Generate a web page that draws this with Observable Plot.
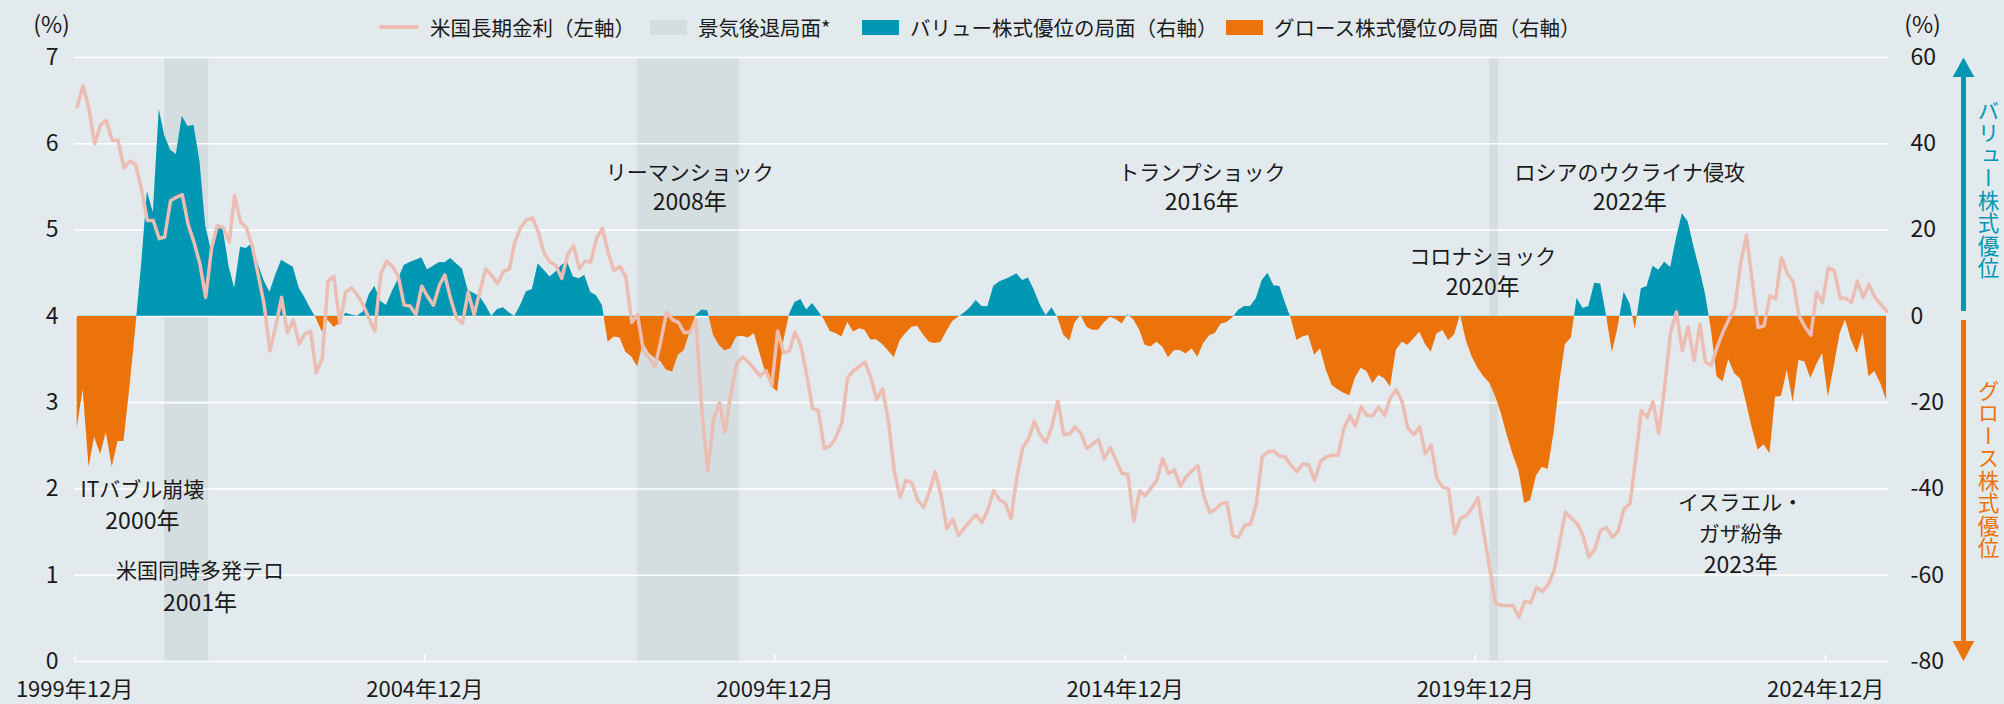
<!DOCTYPE html>
<html lang="ja">
<head>
<meta charset="utf-8">
<script src="https://cdn.jsdelivr.net/npm/d3@7"></script>
<script src="https://cdn.jsdelivr.net/npm/@observablehq/plot@0.6"></script>
<style>
  html, body { margin: 0; padding: 0; background: #e2eaed; }
  #wrap { position: relative; width: 2004px; height: 704px; overflow: hidden;
          font-family: "Noto Sans CJK JP", sans-serif; color: #1a1a1a; }
  #chart svg { display: block; }
  .leg { position: absolute; top: 11px; height: 32px; display: flex; align-items: center;
         gap: 11px; font-size: 20.5px; white-space: nowrap; }
  .sw-line { width: 40px; height: 4px; border-radius: 2px; background: #ecbdb3; }
  .sw-box { width: 37px; height: 15px; }
  .vlab { position: absolute; left: 1977px; writing-mode: vertical-rl; font-size: 21.5px;
          line-height: 22px; letter-spacing: 1px; white-space: nowrap; }
  #arrows { position: absolute; left: 0; top: 0; pointer-events: none; }
</style>
</head>
<body>
<div id="wrap">
  <div id="chart"></div>
  <div class="leg" style="left:379px"><span class="sw-line"></span><span>米国長期金利（左軸）</span></div>
  <div class="leg" style="left:650px"><span class="sw-box" style="background:#d4dde0"></span><span>景気後退局面*</span></div>
  <div class="leg" style="left:862px"><span class="sw-box" style="background:#0097b2"></span><span>バリュー株式優位の局面（右軸）</span></div>
  <div class="leg" style="left:1226px"><span class="sw-box" style="background:#ec720a"></span><span>グロース株式優位の局面（右軸）</span></div>
  <div class="vlab" style="top:100px;color:#0097b2">バリュー株式優位</div>
  <div class="vlab" style="top:380px;color:#ec720a">グロース株式優位</div>
  <svg id="arrows" width="2004" height="704">
    <rect x="1961" y="75" width="5" height="236" fill="#0097b2"></rect>
    <polygon points="1952.7,77 1963.5,57.5 1974.3,77" fill="#0097b2"></polygon>
    <rect x="1961" y="320" width="5" height="323" fill="#ec720a"></rect>
    <polygon points="1952.7,641 1974.3,641 1963.5,661" fill="#ec720a"></polygon>
  </svg>
</div>
<script>
// ---- Data (monthly, 1999年12月 … 2025年10月) ----
// 米国長期金利 (%, left axis)
const yieldValues = [
  6.43, 6.67, 6.40, 6.00, 6.22, 6.27, 6.04, 6.04, 5.72, 5.80, 5.76, 5.47, 5.11,
  5.11, 4.90, 4.92, 5.34, 5.38, 5.41, 5.07, 4.86, 4.61, 4.22, 4.79, 5.05,
  5.03, 4.86, 5.40, 5.09, 5.03, 4.81, 4.49, 4.15, 3.60, 3.88, 4.22, 3.81,
  3.96, 3.68, 3.79, 3.83, 3.35, 3.51, 4.41, 4.46, 3.92, 4.28, 4.33, 4.25,
  4.13, 3.97, 3.83, 4.49, 4.64, 4.58, 4.47, 4.13, 4.12, 4.02, 4.35, 4.23,
  4.13, 4.36, 4.48, 4.20, 3.98, 3.92, 4.28, 4.02, 4.30, 4.55, 4.47, 4.38,
  4.52, 4.55, 4.86, 5.03, 5.12, 5.14, 4.98, 4.73, 4.63, 4.59, 4.44, 4.71,
  4.82, 4.55, 4.64, 4.63, 4.90, 5.02, 4.74, 4.53, 4.58, 4.46, 3.93, 4.02,
  3.60, 3.52, 3.41, 3.72, 4.05, 3.96, 3.93, 3.81, 3.82, 3.96, 2.90, 2.21,
  2.81, 3.00, 2.66, 3.10, 3.45, 3.53, 3.47, 3.39, 3.31, 3.37, 3.20, 3.83,
  3.58, 3.60, 3.82, 3.66, 3.33, 2.93, 2.91, 2.47, 2.50, 2.60, 2.77, 3.29,
  3.37, 3.42, 3.47, 3.29, 3.04, 3.16, 2.80, 2.21, 1.90, 2.10, 2.07, 1.87,
  1.79, 1.97, 2.20, 1.93, 1.54, 1.65, 1.46, 1.55, 1.63, 1.70, 1.61, 1.76,
  1.98, 1.87, 1.84, 1.66, 2.13, 2.48, 2.58, 2.78, 2.62, 2.54, 2.73, 3.02,
  2.63, 2.64, 2.72, 2.64, 2.47, 2.52, 2.57, 2.35, 2.48, 2.33, 2.18, 2.17,
  1.63, 1.98, 1.92, 2.01, 2.10, 2.35, 2.18, 2.22, 2.03, 2.14, 2.21, 2.27,
  1.92, 1.73, 1.76, 1.83, 1.84, 1.46, 1.44, 1.58, 1.59, 1.83, 2.37, 2.43,
  2.44, 2.38, 2.37, 2.27, 2.20, 2.29, 2.28, 2.10, 2.32, 2.37, 2.39, 2.39,
  2.70, 2.85, 2.73, 2.95, 2.85, 2.85, 2.95, 2.85, 3.06, 3.15, 3.01, 2.70,
  2.63, 2.72, 2.41, 2.51, 2.12, 2.02, 2.00, 1.48, 1.66, 1.69, 1.78, 1.90,
  1.48, 1.07, 0.67, 0.65, 0.65, 0.65, 0.51, 0.70, 0.68, 0.86, 0.81, 0.89,
  1.05, 1.40, 1.73, 1.66, 1.60, 1.46, 1.21, 1.30, 1.52, 1.55, 1.44, 1.51,
  1.77, 1.83, 2.32, 2.91, 2.83, 3.01, 2.64, 3.19, 3.82, 4.05, 3.60, 3.88,
  3.49, 3.91, 3.47, 3.43, 3.64, 3.82, 3.96, 4.10, 4.61, 4.94, 4.40, 3.87,
  3.89, 4.24, 4.20, 4.68, 4.50, 4.40, 4.01, 3.88, 3.78, 4.28, 4.16, 4.56,
  4.53, 4.21, 4.21, 4.16, 4.41, 4.22, 4.37, 4.22, 4.14, 4.06
];
// バリュー − グロース (%, right axis): >0 バリュー優位, <0 グロース優位
const valueMinusGrowth = [
  -26, -17, -35, -28, -32, -27, -35, -29, -29, -16.5, -3, 12, 29,
  24, 48, 42, 38.5, 37.5, 46.4, 44, 44.3, 36, 21, 15, 20.7,
  20, 11.4, 6.5, 16, 15.7, 16.9, 12.3, 8.3, 5.6, 9.5, 13, 12.2,
  11.4, 6.5, 4.5, 1.8, -0.5, -3.6, -0.9, -2.5, -1.7, 0.7, 0.3, 0.1,
  1, 5, 7, 3.5, 2.5, 5.8, 8.5, 11.8, 12.5, 13, 13.6, 10.8,
  11.6, 12.5, 12.4, 13.4, 12.2, 11, 6, 5.3, 4.5, 2.5, 0, 1.6,
  2, 0.8, 0, 2.6, 5.7, 6.2, 12.2, 10.7, 9.1, 10.3, 11.8, 12.6,
  9.1, 8.7, 9.5, 5.6, 4.8, 2.5, -6, -4.8, -5, -8.3, -9.4, -11.7,
  -6.3, -8.6, -9.7, -10.5, -12.5, -12.9, -9, -7.9, -3.5, 0.2, 1.5, 1.3,
  -4.5, -6.8, -8, -7.5, -4.8, -4.6, -5, -4, -8.7, -13.3, -16.4, -17.5,
  -6, 0.5, 3.2, 3.9, 1.5, 3.0, 1.2, -0.8, -3.5, -4, -4.8, -1.4,
  -3.6, -2.9, -3.2, -5.5, -5.4, -6.5, -8, -9.6, -5.6, -4, -2.5, -2.3,
  -4.4, -6, -6.3, -6, -3.5, -1.2, -0.2, 0.8, 2, 3.7, 2.3, 2.2,
  7, 8, 8.5, 9.1, 9.9, 8.3, 8.9, 6, 2.6, 0.2, 2, -0.3,
  -4.4, -5.7, -1.5, 0.2, -2.5, -3.2, -3.2, -1.5, -0.2, -0.7, -1.8, 0.3,
  -0.8, -3.2, -6.7, -7.1, -6, -7.1, -9.6, -8, -7.9, -8.7, -7.5, -9.5,
  -6.3, -4.5, -4, -1.8, -1.4, -0.3, 1.4, 2.3, 2.3, 4.1, 8.3, 10,
  7.1, 6.9, 3.2, -0.5, -5.6, -4.8, -4.4, -9, -7.5, -12.5, -16, -17,
  -17.8, -18.4, -14.4, -12, -12.8, -15.6, -13.7, -14.4, -16.4, -7.9, -6, -6.7,
  -5.2, -3.7, -6.4, -8.3, -4.1, -3.3, -5.6, -4.3, 0.3, -5.6, -9.4, -12,
  -14, -15.5, -18.5, -22.5, -27.5, -32, -35.7, -43.4, -42.7, -37, -35, -35.5,
  -27, -15, -6.5, -5, 4.2, 1.8, 2.3, 7.7, 7.5, 0.3, -8.3, -2.5,
  5.6, 2.9, -3, 6.4, 6.9, 11.6, 10.7, 12.6, 11.3, 18, 23.8, 21.9,
  16, 10.7, 5.3, -3, -14, -15.2, -10, -13.3, -14.5, -20, -26, -31,
  -29.8, -31.8, -18.7, -18.6, -12.5, -19.9, -10.2, -10.6, -14.4, -11.3, -8.6, -18.7,
  -11.7, -4, -0.8, -5.6, -8.6, -4, -14, -12.8, -15.6, -19.5
];
// 景気後退局面
const recessionStarts = ["2001-03-15", "2007-12-15", "2020-02-15"];
const recessionEnds   = ["2001-10-31", "2009-05-31", "2020-03-31"];
// Axis ticks
const xTickDates  = ["1999-12-01", "2004-12-01", "2009-12-01", "2014-12-01", "2019-12-01", "2024-12-01"];
const xTickLabels = ["1999年12月", "2004年12月", "2009年12月", "2014年12月", "2019年12月", "2024年12月"];
const leftTicks = [0, 1, 2, 3, 4, 5, 6, 7];
const leftTickLabels = ["0", "1", "2", "3", "4", "5", "6", "7"];
const rightTickLabels = ["-80", "-60", "-40", "-20", "0", "20", "40", "60"];
// Event annotations (anchor date, left-axis value)
const annotationLines = [
  {date: "2000-11-19", y: 1.99, text: "ITバブル崩壊"},
  {date: "2000-11-19", y: 1.62, text: "2000年"},
  {date: "2001-09-15", y: 1.04, text: "米国同時多発テロ"},
  {date: "2001-09-15", y: 0.67, text: "2001年"},
  {date: "2008-09-13", y: 5.66, text: "リーマンショック"},
  {date: "2008-09-13", y: 5.32, text: "2008年"},
  {date: "2016-01-05", y: 5.66, text: "トランプショック"},
  {date: "2016-01-05", y: 5.32, text: "2016年"},
  {date: "2022-02-14", y: 5.66, text: "ロシアのウクライナ侵攻"},
  {date: "2022-02-14", y: 5.32, text: "2022年"},
  {date: "2020-01-09", y: 4.68, text: "コロナショック"},
  {date: "2020-01-09", y: 4.33, text: "2020年"},
  {date: "2023-09-15", y: 1.83, text: "イスラエル・"},
  {date: "2023-09-15", y: 1.47, text: "ガザ紛争"},
  {date: "2023-09-15", y: 1.11, text: "2023年"}
];

// ---- Build table ----
const start = new Date(Date.UTC(1999, 11, 15));
const series = yieldValues.map((v, i) => ({
  date: d3.utcMonth.offset(start, i),
  yield: v,
  vg: valueMinusGrowth[i]
}));
const recessions = recessionStarts.map((s, i) => ({start: new Date(s), end: new Date(recessionEnds[i])}));
const xTicks = xTickDates.map(d => new Date(d));
const TEAL = "#0097b2", ORANGE = "#ec720a";

const chart = Plot.plot({
  width: 2004,
  height: 704,
  marginLeft: 74,
  marginRight: 116,
  marginTop: 57,
  marginBottom: 43,
  style: {background: "transparent", fontFamily: "'Noto Sans CJK JP', sans-serif", fontSize: "23px", color: "#1a1a1a", overflow: "visible"},
  x: {type: "utc", domain: [new Date(Date.UTC(1999, 11, 1)), new Date(Date.UTC(2025, 9, 25))]},
  y: {domain: [0, 7]},
  marks: [
    Plot.rect(recessions, {x1: "start", x2: "end", y1: 0, y2: 7, fill: "#d4dde0"}),
    Plot.ruleY(leftTicks, {stroke: "#ffffff", strokeWidth: 1.6}),
    Plot.ruleX(xTicks, {y1: 0, y2: 0.075, stroke: "#ffffff", strokeWidth: 1.6}),
    Plot.areaY(series, {x: "date", y1: 4, y2: d => 4 + d.vg / 20, fill: "url(#vgFill)"}),
    Plot.lineY(series, {x: "date", y: "yield", stroke: "#ecbdb3", strokeWidth: 3.5, strokeLinejoin: "round"}),
    Plot.axisY({ticks: leftTicks, tickFormat: d => leftTickLabels[leftTicks.indexOf(d)],
                tickSize: 0, tickPadding: 16, label: null, fontSize: 23}),
    Plot.axisY({anchor: "right", ticks: leftTicks, tickFormat: d => rightTickLabels[leftTicks.indexOf(d)],
                tickSize: 0, tickPadding: 22, label: null, fontSize: 23}),
    Plot.axisX({ticks: xTicks, tickFormat: d => xTickLabels[xTicks.findIndex(t => +t === +d)],
                tickSize: 0, tickPadding: 20, label: null, fontSize: 22}),
    Plot.text(annotationLines, {x: d => new Date(d.date), y: "y", text: "text",
                fontSize: d => /^\d/.test(d.text) ? 23 : 21, fill: "#1a1a1a",
                textAnchor: "middle", lineAnchor: "middle"}),
    Plot.text(["(%)"], {text: d => d, frameAnchor: "top-left", dx: -23, dy: -32, fontSize: 23, lineAnchor: "middle", textAnchor: "middle"}),
    Plot.text(["(%)"], {text: d => d, frameAnchor: "top-right", dx: 34, dy: -32, fontSize: 23, lineAnchor: "middle", textAnchor: "middle"})
  ]
});

// Gradient: teal above the right-axis zero, orange below (zero from the y scale)
const y0 = chart.scale("y").apply(4);
const ns = "http://www.w3.org/2000/svg";
const defs = document.createElementNS(ns, "defs");
const grad = document.createElementNS(ns, "linearGradient");
grad.setAttribute("id", "vgFill");
grad.setAttribute("gradientUnits", "userSpaceOnUse");
grad.setAttribute("x1", "0"); grad.setAttribute("x2", "0");
grad.setAttribute("y1", "0"); grad.setAttribute("y2", "704");
[[y0 / 704, TEAL], [y0 / 704, ORANGE]].forEach(([o, c]) => {
  const s = document.createElementNS(ns, "stop");
  s.setAttribute("offset", String(o));
  s.setAttribute("stop-color", c);
  grad.appendChild(s);
});
defs.appendChild(grad);
chart.insertBefore(defs, chart.firstChild);
document.getElementById("chart").appendChild(chart);
</script>
</body>
</html>
